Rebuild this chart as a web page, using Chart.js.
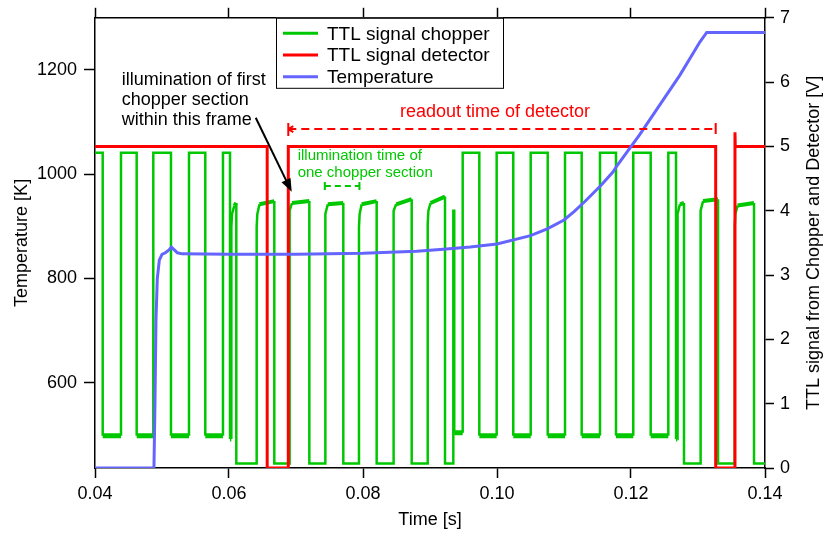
<!DOCTYPE html>
<html>
<head>
<meta charset="utf-8">
<title>TTL signals and temperature</title>
<script src="https://cdn.jsdelivr.net/npm/chart.js@4.4.1/dist/chart.umd.min.js"></script>
<style>
  html, body { margin: 0; padding: 0; background: #fff; }
  #wrap { width: 824px; height: 533px; }
</style>
</head>
<body>
<div id="wrap"><canvas id="myChart" width="824" height="533"></canvas></div>
<script>
// ---- values ----
const timeTicks = [0.04, 0.06, 0.08, 0.10, 0.12, 0.14];
const tempTicks = [600, 800, 1000, 1200];
const voltTicks = [0, 1, 2, 3, 4, 5, 6, 7];

// TTL signal chopper [V]
const chopperT = [
  0.0400, 0.04115, 0.04115, 0.04388, 0.04388, 0.04622, 0.04622, 0.0487, 0.0487,
  0.05134, 0.05134, 0.05403, 0.05403, 0.05646, 0.05646, 0.0591, 0.0591,
  0.06015, 0.06015, 0.06035, 0.06035, 0.06045, 0.0608, 0.06109, 0.06109,
  0.06413, 0.06413, 0.06423, 0.06455, 0.06676, 0.06676,
  0.0690, 0.0690, 0.0691, 0.0694, 0.07199, 0.07199,
  0.07433, 0.07433, 0.07443, 0.07475, 0.07706, 0.07706,
  0.0794, 0.0794, 0.0795, 0.0798, 0.08204, 0.08204,
  0.08452, 0.08452, 0.08462, 0.08495, 0.08727, 0.08727,
  0.08966, 0.08966, 0.08976, 0.09008, 0.09224, 0.09224,
  0.09348, 0.09348, 0.09362, 0.09362, 0.09488, 0.09488,
  0.09736, 0.09736, 0.09995, 0.09995, 0.10243, 0.10243, 0.10503, 0.10503,
  0.10757, 0.10757, 0.11015, 0.11015, 0.11264, 0.11264, 0.11537, 0.11537,
  0.11776, 0.11776, 0.12034, 0.12034, 0.12294, 0.12294, 0.12557, 0.12557,
  0.12672, 0.12672, 0.1269, 0.1269, 0.127, 0.1273, 0.12791, 0.12791,
  0.13034, 0.13034, 0.13044, 0.13076, 0.13299, 0.13299,
  0.13548, 0.13548, 0.13558, 0.1359, 0.13836, 0.13836, 0.1400
];
const chopperV = [
  4.9, 4.9, 0.5, 0.5, 4.9, 4.9, 0.5, 0.5, 4.9,
  4.9, 0.5, 0.5, 4.9, 4.9, 0.5, 0.5, 4.9,
  4.9, 0.45, 0.45, 3.75, 3.95, 4.08, 4.12, 0.07,
  0.07, 3.75, 3.95, 4.1, 4.15, 0.07,
  0.07, 3.8, 4.0, 4.12, 4.15, 0.07,
  0.07, 3.75, 3.95, 4.1, 4.12, 0.07,
  0.07, 3.75, 3.95, 4.1, 4.15, 0.07,
  0.07, 3.8, 4.0, 4.1, 4.18, 0.07,
  0.07, 3.8, 4.0, 4.12, 4.22, 0.07,
  0.07, 4.0, 4.0, 0.55, 0.55, 4.9,
  4.9, 0.5, 0.5, 4.9, 4.9, 0.5, 0.5, 4.9,
  4.9, 0.5, 0.5, 4.9, 4.9, 0.5, 0.5, 4.9,
  4.9, 0.5, 0.5, 4.9, 4.9, 0.5, 0.5, 4.9,
  4.9, 0.45, 0.45, 3.75, 3.95, 4.1, 4.12, 0.07,
  0.07, 3.8, 4.0, 4.15, 4.18, 0.07,
  0.07, 3.75, 3.95, 4.08, 4.12, 0.07, 0.07
];

// TTL signal detector [V]
const detectorT = [0.0400, 0.0657, 0.0657, 0.06885, 0.06885, 0.13264, 0.13264, 0.13552, 0.13552, 0.13556, 0.1400];
const detectorV = [5.0, 5.0, 0.0, 0.0, 5.0, 5.0, 0.0, 0.0, 5.22, 5.0, 5.0];

// Temperature [K]
const tempT = [0.0400, 0.0488, 0.04895, 0.0491, 0.0493, 0.0496, 0.0500, 0.0505, 0.0510, 0.0514,
  0.0518, 0.0523, 0.0530, 0.0600, 0.0700, 0.0800, 0.0880, 0.0920, 0.0960, 0.1000,
  0.1050, 0.1075, 0.1100, 0.1115, 0.1130, 0.1155, 0.1173, 0.1179, 0.1213, 0.1243,
  0.1273, 0.1303, 0.1313, 0.1400];
const tempK = [436, 436, 560, 720, 800, 835, 846, 849, 854, 860,
  855, 849, 847, 846, 846, 848, 852, 856, 860, 866,
  882, 895, 912, 928, 946, 978, 1004, 1016, 1076, 1133,
  1190, 1254, 1272, 1272];

// annotation anchors, in (time, right-axis volts)
const noteFirst = { t: 0.04398, v: 6.03, lines: ['illumination of first', 'chopper section', 'within this frame'] };
const noteArrow = { t0: 0.06399, v0: 5.445, t1: 0.06936, v1: 4.294 };
const readout = { t0: 0.06885, t1: 0.13264, v: 5.27, textT: 0.0997, textV: 5.54, text: 'readout time of detector' };
const illum = { t: 0.07025, v: 4.856, lines: ['illumination time of', 'one chopper section'], t0: 0.0743, t1: 0.07947, barV: 4.386 };

const GREEN = '#00c800';
const RED = '#ff0000';
const BLUE = '#6464ff';
const FONT = 'Arial, "Liberation Sans", sans-serif';

function pairs(xs, ys) {
    return xs.map((x, i) => ({ x: x, y: ys[i] }));
}

function fixSize(w, h) {
    return function(scale) {
        if (w != null) scale.width = w;
        if (h != null) scale.height = h;
    };
}

function setTicks(values) {
    return function(scale) {
        scale.ticks = values.map(v => ({ value: v }));
    };
}

function axisGrid(len) {
    return { display: true, drawOnChartArea: false, drawTicks: true, tickLength: len, tickWidth: 1.5, tickColor: '#000' };
}
const axisBorder = { display: true, color: '#000', width: 1.5 };

// noisy plateaus look thicker in the original
function chopperWidth(ctx) {
    const a = ctx.p0.parsed.y, b = ctx.p1.parsed.y;
    if (a === b && a > 0.3 && a < 0.7) return 5;
    if (a > 4.0 && b > 4.0 && a < 4.5 && b < 4.5) return 4;
    return 2.5;
}

// legend + text annotations
const overlay = {
    id: 'overlay',
    afterDatasetsDraw(chart) {
        const ctx = chart.ctx;
        const xs = chart.scales.x, ys = chart.scales.yR;
        const px = t => xs.getPixelForValue(t);
        const py = v => ys.getPixelForValue(v);
        ctx.save();

        // black note with arrow
        ctx.fillStyle = '#000';
        ctx.font = '18px ' + FONT;
        ctx.textBaseline = 'middle';
        ctx.textAlign = 'left';
        noteFirst.lines.forEach((s, i) => ctx.fillText(s, px(noteFirst.t), py(noteFirst.v) + i * 20));
        const ax0 = px(noteArrow.t0), ay0 = py(noteArrow.v0), ax1 = px(noteArrow.t1), ay1 = py(noteArrow.v1);
        const ang = Math.atan2(ay1 - ay0, ax1 - ax0);
        ctx.strokeStyle = '#000';
        ctx.lineWidth = 2;
        ctx.beginPath();
        ctx.moveTo(ax0, ay0);
        ctx.lineTo(ax1 - 10 * Math.cos(ang), ay1 - 10 * Math.sin(ang));
        ctx.stroke();
        ctx.beginPath();
        ctx.moveTo(ax1, ay1);
        ctx.lineTo(ax1 - 13 * Math.cos(ang) + 5 * Math.sin(ang), ay1 - 13 * Math.sin(ang) - 5 * Math.cos(ang));
        ctx.lineTo(ax1 - 13 * Math.cos(ang) - 5 * Math.sin(ang), ay1 - 13 * Math.sin(ang) + 5 * Math.cos(ang));
        ctx.closePath();
        ctx.fill();

        // red readout span
        const rx0 = px(readout.t0), rx1 = px(readout.t1), ry = py(readout.v);
        ctx.strokeStyle = RED;
        ctx.lineWidth = 2;
        ctx.setLineDash([8, 5]);
        ctx.beginPath();
        ctx.moveTo(rx0, ry);
        ctx.lineTo(rx1, ry);
        ctx.stroke();
        ctx.setLineDash([]);
        ctx.beginPath();
        ctx.moveTo(rx0, ry - 6); ctx.lineTo(rx0, ry + 7);
        ctx.moveTo(rx1, ry - 6); ctx.lineTo(rx1, ry + 5);
        ctx.moveTo(rx0, ry); ctx.lineTo(rx0 + 5, ry - 3);
        ctx.moveTo(rx0, ry); ctx.lineTo(rx0 + 5, ry + 3);
        ctx.stroke();
        ctx.fillStyle = RED;
        ctx.font = '18px ' + FONT;
        ctx.textAlign = 'center';
        ctx.fillText(readout.text, px(readout.textT), py(readout.textV));

        // green chopper-section note
        ctx.fillStyle = GREEN;
        ctx.font = '15px ' + FONT;
        ctx.textAlign = 'left';
        illum.lines.forEach((s, i) => ctx.fillText(s, px(illum.t), py(illum.v) + i * 17.6));
        const gx0 = px(illum.t0), gx1 = px(illum.t1), gy = py(illum.barV);
        ctx.strokeStyle = GREEN;
        ctx.lineWidth = 2;
        ctx.setLineDash([6, 4]);
        ctx.beginPath();
        ctx.moveTo(gx0, gy); ctx.lineTo(gx1, gy);
        ctx.stroke();
        ctx.setLineDash([]);
        ctx.beginPath();
        ctx.moveTo(gx0, gy - 4); ctx.lineTo(gx0, gy + 4);
        ctx.moveTo(gx1, gy - 4); ctx.lineTo(gx1, gy + 4);
        ctx.stroke();

        // legend box
        const area = chart.chartArea;
        const lx = area.left + 181, ly = area.top;
        ctx.fillStyle = '#fff';
        ctx.fillRect(lx, ly, 227, 70);
        ctx.strokeStyle = '#000';
        ctx.lineWidth = 1;
        ctx.strokeRect(lx + 0.5, ly + 0.5, 227, 70);
        const items = [['TTL signal chopper', GREEN], ['TTL signal detector', RED], ['Temperature', BLUE]];
        ctx.font = '19px ' + FONT;
        ctx.textBaseline = 'middle';
        items.forEach((it, i) => {
            const yy = ly + 15.5 + i * 21.7;
            ctx.strokeStyle = it[1];
            ctx.lineWidth = 3;
            ctx.beginPath();
            ctx.moveTo(lx + 7, yy); ctx.lineTo(lx + 42, yy);
            ctx.stroke();
            ctx.fillStyle = '#000';
            ctx.fillText(it[0], lx + 51, yy + 1);
        });

        // right axis title, reads bottom to top
        ctx.save();
        ctx.translate(814, (area.top + area.bottom) / 2);
        ctx.rotate(-Math.PI / 2);
        ctx.textAlign = 'center';
        ctx.fillStyle = '#000';
        ctx.font = '18px ' + FONT;
        ctx.fillText('TTL signal from Chopper and Detector [V]', 0, 0);
        ctx.restore();

        ctx.restore();
    }
};

const ctx = document.getElementById('myChart').getContext('2d');
const myChart = new Chart(ctx, {
    type: 'line',
    data: {
        datasets: [{
            label: 'TTL signal chopper',
            data: pairs(chopperT, chopperV),
            borderColor: GREEN,
            borderWidth: 2.5,
            segment: { borderWidth: chopperWidth },
            yAxisID: 'yR',
            order: 3
        }, {
            label: 'TTL signal detector',
            data: pairs(detectorT, detectorV),
            borderColor: RED,
            borderWidth: 3,
            yAxisID: 'yR',
            order: 2
        }, {
            label: 'Temperature',
            data: pairs(tempT, tempK),
            borderColor: BLUE,
            borderWidth: 3,
            yAxisID: 'yL',
            order: 1
        }]
    },
    options: {
        responsive: false,
        animation: false,
        elements: { point: { radius: 0 }, line: { tension: 0, borderJoinStyle: 'miter' } },
        layout: { padding: 0 },
        plugins: { legend: { display: false }, tooltip: { enabled: false } },
        scales: {
            x: {
                type: 'linear', position: 'bottom', min: 0.04, max: 0.14,
                afterBuildTicks: setTicks(timeTicks),
                afterFit: fixSize(null, 65),
                grid: axisGrid(10), border: axisBorder,
                ticks: { color: '#000', padding: 5, maxRotation: 0, font: { family: FONT, size: 18 }, callback: v => v.toFixed(2) },
                title: { display: true, text: 'Time [s]', color: '#000', font: { family: FONT, size: 18 }, padding: { top: 0, bottom: 2 } }
            },
            xTop: {
                type: 'linear', position: 'top', min: 0.04, max: 0.14,
                afterBuildTicks: setTicks(timeTicks),
                afterFit: fixSize(null, 12),
                grid: axisGrid(10), border: axisBorder,
                ticks: { display: false }
            },
            yL: {
                type: 'linear', position: 'left', min: 436, max: 1300,
                afterBuildTicks: setTicks(tempTicks),
                afterFit: fixSize(95, null),
                grid: axisGrid(11), border: axisBorder,
                ticks: { color: '#000', padding: 7, font: { family: FONT, size: 18 }, callback: v => String(v) },
                title: { display: true, text: 'Temperature [K]', color: '#000', font: { family: FONT, size: 18 }, padding: { top: 11.7, bottom: 0 } }
            },
            yR: {
                type: 'linear', position: 'right', min: 0, max: 7,
                afterBuildTicks: setTicks(voltTicks),
                afterFit: fixSize(59, null),
                grid: axisGrid(9), border: axisBorder,
                ticks: { color: '#000', padding: 6, font: { family: FONT, size: 18 }, callback: v => String(v) }
            }
        }
    },
    plugins: [overlay]
});
</script>
</body>
</html>
